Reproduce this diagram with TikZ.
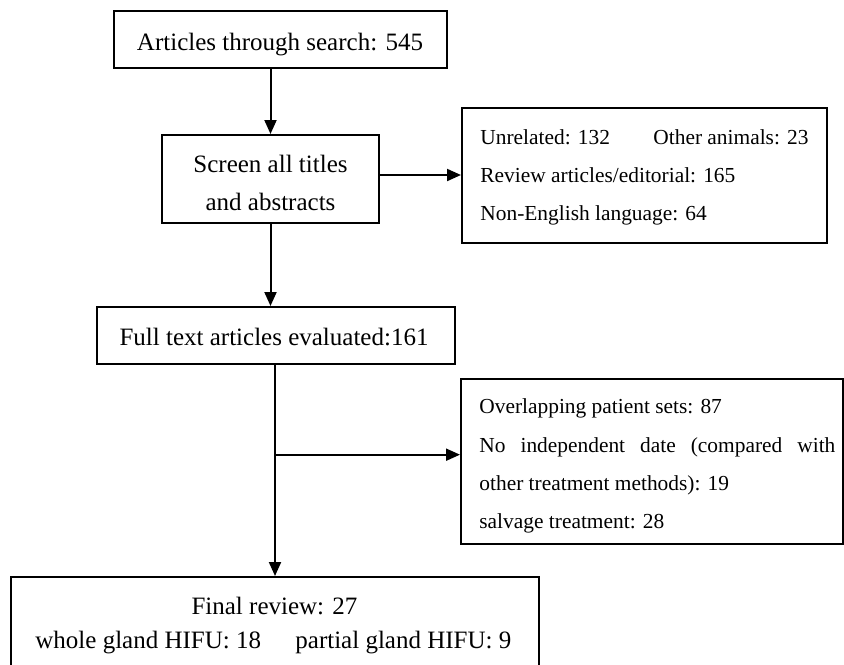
\documentclass[tikz,border=0pt]{standalone}
\usepackage{fontspec}
\setmainfont{Liberation Serif}
\usetikzlibrary{arrows.meta,calc}
\begin{document}
\begin{tikzpicture}[x=0.5pt,y=-0.5pt,
  box/.style={draw,line width=1pt,rectangle,inner sep=0pt},
  txt/.style={inner sep=0pt,font=\fontsize{12.5}{15}\selectfont},
  stxt/.style={inner sep=0pt,font=\fontsize{10.7}{13}\selectfont},
  arr/.style={line width=1pt,-{Triangle[width=6pt,length=7pt]}}]
\useasboundingbox (0,0) rectangle (844,664);
\clip (0,0) rectangle (844,664);
% boxes
\node[box,minimum width=166.5pt,minimum height=28.5pt] (b1) at (280.5,39.5) {};
\node[box,minimum width=108.5pt,minimum height=44pt] (b2) at (270.5,179) {};
\node[box,minimum width=182.5pt,minimum height=67.5pt] (b3) at (644.5,175.5) {};
\node[box,minimum width=179pt,minimum height=28.5pt] (b4) at (276,335.5) {};
\node[box,minimum width=191pt,minimum height=82.5pt] (b5) at (652,461.5) {};
\node[box,minimum width=264pt,minimum height=61.5pt] (b6) at (275,638.5) {};
% texts
\node[txt,anchor=base] (t1) at (280,50) {Articles through search: 545};
\node[txt,anchor=base] (t2a) at (270.5,172) {Screen all titles};
\node[txt,anchor=base] (t2b) at (270.5,210) {and abstracts};
\node[stxt,anchor=base west] (t3a) at (480,144) {Unrelated: 132};
\node[stxt,anchor=base west] (t3b) at (653,144) {Other animals: 23};
\node[stxt,anchor=base west] (t3c) at (480,182) {Review articles/editorial: 165};
\node[stxt,anchor=base west] (t3d) at (480,220) {Non-English language: 64};
\node[txt,anchor=base] (t4) at (274,345) {Full text articles evaluated:161};
\node[stxt,anchor=base west] (t5a) at (479,413) {Overlapping patient sets: 87};
\node[stxt,anchor=base west] (t5b) at (479,452) {\makebox[178pt][s]{No independent date (compared with}};
\node[stxt,anchor=base west] (t5c) at (479,490) {other treatment methods): 19};
\node[stxt,anchor=base west] (t5d) at (479,528) {salvage treatment: 28};
\node[txt,anchor=base] (t6a) at (274.5,614) {Final review: 27};
\node[txt,anchor=base west] (t6b) at (35,648) {whole gland HIFU: 18};
\node[txt,anchor=base west] (t6c) at (295,648) {partial gland HIFU: 9};
% connectors
\draw[arr] (b1.south -| b2.north) -- (b2.north);
\coordinate (r2) at ($(b2.east)+(0,-4)$);
\draw[arr] (r2) -- (r2 -| b3.west);
\draw[arr] (b2.south) -- (b2.south |- b4.north);
\draw[arr] (b4.south -| b6.north) -- (b6.north);
\coordinate (j) at ($(b4.south -| b6.north)!0.425!(b6.north)$);
\draw[arr] (j) -- (j -| b5.west);
\end{tikzpicture}
\end{document}
